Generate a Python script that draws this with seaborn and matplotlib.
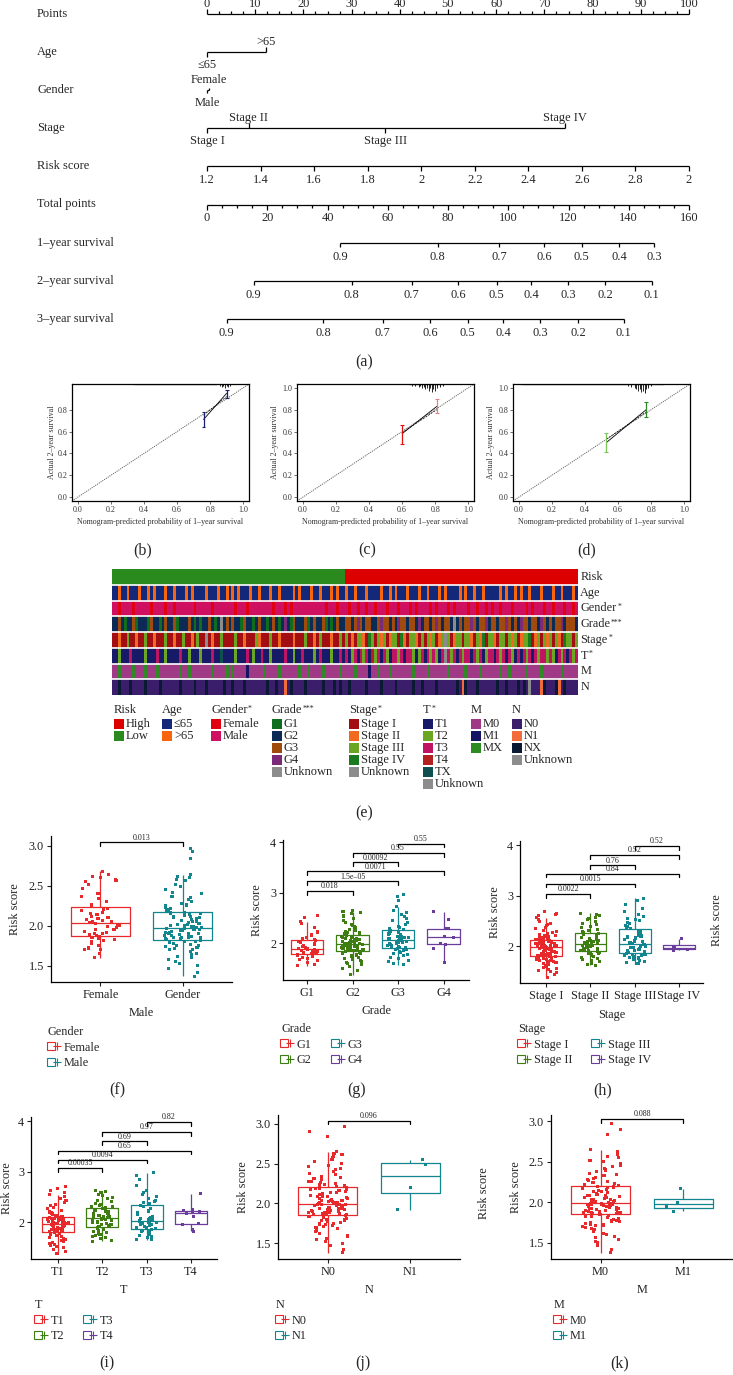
import numpy as np
import pandas as pd
import matplotlib
matplotlib.use('Agg')
import matplotlib.pyplot as plt
import seaborn as sns
from matplotlib.colors import ListedColormap
from matplotlib.lines import Line2D
from matplotlib.patches import Rectangle
from matplotlib.legend_handler import HandlerTuple
from matplotlib.transforms import blended_transform_factory

sns.set_theme(style='white')
plt.rcParams['font.family'] = ['Liberation Serif', 'DejaVu Serif']
np.random.seed(3)

# ---------------- nomogram (a) ----------------
points_ticks = [0, 10, 20, 30, 40, 50, 60, 70, 80, 90, 100]
age_levels = ['\u226465', '>65']
age_points = [0, 12.2]
gender_levels = ['Male', 'Female']
gender_points = [0, 0.4]
stage_levels = ['Stage I', 'Stage II', 'Stage III', 'Stage IV']
stage_points = [0, 8.7, 37.0, 74.3]
risk_ticks = [1.2, 1.4, 1.6, 1.8, 2.0, 2.2, 2.4, 2.6, 2.8, 3.0]
risk_tick_labels = ['1.2', '1.4', '1.6', '1.8', '2', '2.2', '2.4', '2.6', '2.8', '2']
total_ticks = [0, 20, 40, 60, 80, 100, 120, 140, 160]
surv1_probs = ['0.9', '0.8', '0.7', '0.6', '0.5', '0.4', '0.3']
surv1_total = [44.3, 76.6, 97.0, 112.0, 124.4, 136.8, 148.4]
surv2_probs = ['0.9', '0.8', '0.7', '0.6', '0.5', '0.4', '0.3', '0.2', '0.1']
surv2_total = [15.5, 48.0, 67.9, 83.4, 96.1, 107.7, 119.8, 132.1, 147.6]
surv3_probs = ['0.9', '0.8', '0.7', '0.6', '0.5', '0.4', '0.3', '0.2', '0.1']
surv3_total = [6.5, 38.5, 58.3, 74.1, 86.5, 98.4, 110.5, 123.2, 138.3]
row_names = ['Points', 'Age', 'Gender', 'Stage', 'Risk score', 'Total points',
             '1\u2013year survival', '2\u2013year survival', '3\u2013year survival']

# ---------------- calibration (b)-(d) ----------------
cal_b_pred, cal_b_obs, cal_b_corr = [0.76, 0.90], [0.71, 0.95], [0.75, 0.92]
cal_b_low, cal_b_high = [0.64, 0.91], [0.78, 0.98]
cal_c_pred, cal_c_obs, cal_c_corr = [0.60, 0.81], [0.58, 0.83], [0.59, 0.80]
cal_c_low, cal_c_high = [0.49, 0.77], [0.66, 0.90]
cal_d_pred, cal_d_obs, cal_d_corr = [0.53, 0.77], [0.50, 0.80], [0.53, 0.78]
cal_d_low, cal_d_high = [0.41, 0.73], [0.59, 0.87]
rug_b_x = [0.86, 0.87, 0.88, 0.89, 0.90, 0.91, 0.92]
rug_b_h = [0.015, 0.03, 0.02, 0.035, 0.02, 0.03, 0.015]
rug_c_x = [0.66, 0.68, 0.70, 0.71, 0.72, 0.73, 0.74, 0.75, 0.76, 0.77, 0.78, 0.79, 0.80, 0.81, 0.83, 0.85]
rug_c_h = [0.02, 0.02, 0.03, 0.02, 0.04, 0.03, 0.05, 0.04, 0.06, 0.04, 0.07, 0.05, 0.06, 0.04, 0.03, 0.02]
rug_d_x = [0.66, 0.68, 0.70, 0.71, 0.72, 0.73, 0.74, 0.75, 0.76, 0.77, 0.78, 0.80]
rug_d_h = [0.02, 0.03, 0.04, 0.05, 0.06, 0.05, 0.07, 0.06, 0.08, 0.05, 0.04, 0.02]

# ---------------- heatmap (e) ----------------
risk_codes = 'L' * 80 + 'H' * 80
age_codes = ''.join([
    'aaoaaoaaao', 'aaoaoaaaoa', 'aoaaaoaoaa', 'aaoaaaoaao', 'aoaoaaaoaa', 'oaaaoaaoaa', 'aaoaoaaaoa', 'aoaaaoaoaa',
    'oaaoaaaoaa', 'aaoaaoaoaa', 'aoaaaoaaoa', 'aaoaoaaaao', 'aoaaoaaoaa', 'aaaoaoaaoa', 'oaaoaaaoaa', 'aoaaoaaaoa'])
gender_codes = ''.join([
    'mmfmmmmfmm', 'mmmfmmmmfm', 'mfmmmmmmfm', 'mmmmfmmmmm', 'mmfmmmfmmm', 'mmmmmfmmmf', 'mfmmmmmmmm', 'mmmfmmmfmm',
    'mfmmfmmfmm', 'fmmmfmmmfm', 'mmfmfmmmmf', 'mfmmmfmfmm', 'mmfmmfmmfm', 'fmmfmmmfmm', 'mmfmfmmmfm', 'mfmmmfmmfm'])
grade_codes = ''.join([
    '2232122312', '2213221232', '2312223212', '1223212u23', '2322132212', '3221232124', '2132223123', '2231212322',
    '3323432332', '2343323243', '3233242332', '3432332u23', '2334323342', '3323343232', '4332332432', '3233423332'])
stage_codes = ''.join([
    '1121131121', '1311211131', '1211311213', '11u1211311', '1131121113', '2111311211', '1121113112', '1311121131',
    '3121332143', '1323123314', '2133213132', '3123u31233', '1332132413', '3213313231', '2334123132', '3132143313'])
t_codes = ''.join([
    '1121113111', '1211131121', '1113112111', '2111311x11', '1121113121', '1311211113', '1121131112', '1311121131',
    '3123132314', '2313213323', '1332123132', '3213u32313', '2331323123', '3132313213', '1323132332', '3213231323'])
m_codes = ''.join([
    '00x0000x00', '0x000x0000', '000x00x000', '0000x0000x', '0x00001000', '00x0000x00', '0000x00x00', '00x00000x0',
    '000x000010', '0x000x0000', '000x0000x0', '00000x0000', '0x0000x000', '000x00x000', '00x0000x00', '0000x00000'])
n_codes = ''.join([
    '00x000x000', '0x0000x000', '000x0000x0', '00x00000x0', '0x000x0000', '000x00x001', '0x0000x000', '00x000x0x0',
    '0x00000x00', '00x0000x00', '000x00x000', '0x000000x0', '1x000x0000', '00x00x000x', '0x0u0001x0', '00x10x0000'])

risk_key = {'H': ('High', '#DD0000'), 'L': ('Low', '#2B8A1E')}
age_key = {'a': ('\u226465', '#14287A'), 'o': ('>65', '#F8650C')}
gender_key = {'f': ('Female', '#E00010'), 'm': ('Male', '#CF1060')}
grade_key = {'1': ('G1', '#0E6E1E'), '2': ('G2', '#0B2A55'), '3': ('G3', '#A04A0E'),
             '4': ('G4', '#7A2A78'), 'u': ('Unknown', '#8C8C8C')}
stage_key = {'1': ('Stage I', '#A30E12'), '2': ('Stage II', '#F26A1F'), '3': ('Stage III', '#6AA621'),
             '4': ('Stage IV', '#1B7A1F'), 'u': ('Unknown', '#8C8C8C')}
t_key = {'1': ('T1', '#171A66'), '2': ('T2', '#6AA621'), '3': ('T3', '#C01462'), '4': ('T4', '#B22020'),
         'x': ('TX', '#0E5050'), 'u': ('Unknown', '#8C8C8C')}
m_key = {'0': ('M0', '#A03A86'), '1': ('M1', '#141462'), 'x': ('MX', '#2E8A22')}
n_key = {'0': ('N0', '#3B1E6B'), '1': ('N1', '#F26B3A'), 'x': ('NX', '#0B1A34'), 'u': ('Unknown', '#8C8C8C')}

# (label, significance stars, codes, colour key)
heat_rows = [('Risk', '', risk_codes, risk_key), ('Age', '', age_codes, age_key),
             ('Gender', '*', gender_codes, gender_key), ('Grade', '***', grade_codes, grade_key),
             ('Stage', '*', stage_codes, stage_key), ('T', '*', t_codes, t_key),
             ('M', '', m_codes, m_key), ('N', '', n_codes, n_key)]
legend_x = [114, 162, 211, 272, 349, 423, 471, 512]

# ---------------- box plots (f)-(k) ----------------
female_scores = [2.68, 2.64, 2.62, 2.60, 2.58, 2.56, 2.55, 2.52, 2.46, 2.40, 2.36, 2.34, 2.30, 2.26,
                 2.22, 2.21, 2.19, 2.17, 2.15, 2.14, 2.12, 2.10, 2.09, 2.08, 2.07, 2.06, 2.05, 2.04,
                 2.03, 2.02, 2.00, 1.99, 1.98, 1.96, 1.95, 1.93, 1.92, 1.91, 1.90, 1.89, 1.88, 1.87,
                 1.86, 1.85, 1.84, 1.83, 1.82, 1.80, 1.78, 1.76, 1.73, 1.72, 1.71, 1.70, 1.66, 1.60]
male_scores = [2.97, 2.93, 2.84, 2.64, 2.62, 2.60, 2.58, 2.56, 2.52, 2.49, 2.45, 2.42, 2.40, 2.37, 2.35,
               2.33, 2.30, 2.28, 2.26, 2.25, 2.23, 2.22, 2.20, 2.19, 2.18,
               2.17, 2.16, 2.15, 2.14, 2.13, 2.12, 2.11, 2.10, 2.09, 2.08, 2.07, 2.06, 2.05, 2.04, 2.03,
               2.02, 2.02, 2.01, 2.00, 2.00, 1.99, 1.99, 1.98, 1.98, 1.97,
               1.97, 1.96, 1.96, 1.95, 1.94, 1.94, 1.93, 1.92, 1.92, 1.91, 1.90, 1.90, 1.89, 1.88, 1.88,
               1.87, 1.87, 1.86, 1.86, 1.85, 1.85, 1.84, 1.84, 1.83, 1.83,
               1.82, 1.81, 1.80, 1.79, 1.78, 1.77, 1.76, 1.75, 1.74, 1.73, 1.72, 1.71, 1.70, 1.68, 1.66,
               1.64, 1.62, 1.60, 1.58, 1.56, 1.53, 1.50, 1.47, 1.42, 1.37]
g1_scores = [2.55, 2.50, 2.42, 2.39, 2.30, 2.22, 2.16, 2.12, 2.09, 2.07,
             2.05, 2.03, 2.01, 1.99, 1.97, 1.95, 1.93, 1.91, 1.90, 1.89,
             1.88, 1.87, 1.86, 1.85, 1.84, 1.83, 1.82, 1.81, 1.80, 1.79,
             1.77, 1.76, 1.74, 1.72, 1.70, 1.68, 1.65, 1.62, 1.58, 1.55]
g2_scores = [2.65, 2.62, 2.60, 2.58, 2.55, 2.52, 2.48, 2.44, 2.40, 2.37, 2.35, 2.32, 2.30, 2.27, 2.25,
             2.23, 2.21, 2.20, 2.18, 2.17,
             2.15, 2.14, 2.13, 2.12, 2.11, 2.10, 2.09, 2.08, 2.07, 2.06, 2.05, 2.04, 2.03, 2.02, 2.01,
             2.00, 2.00, 1.99, 1.99, 1.98,
             1.97, 1.96, 1.96, 1.95, 1.94, 1.93, 1.93, 1.92, 1.91, 1.90, 1.90, 1.89, 1.88, 1.88, 1.87,
             1.86, 1.86, 1.85, 1.85, 1.84,
             1.83, 1.82, 1.80, 1.79, 1.78, 1.76, 1.75, 1.73, 1.72, 1.70, 1.68, 1.66, 1.64, 1.62, 1.60,
             1.57, 1.54, 1.50, 1.45, 1.37]
g3_scores = [2.97, 2.93, 2.85, 2.72, 2.65, 2.60, 2.56, 2.52, 2.48, 2.44, 2.40, 2.36, 2.33, 2.30, 2.28,
             2.26, 2.24, 2.22, 2.20, 2.18, 2.16, 2.14, 2.13, 2.12, 2.11, 2.10, 2.09, 2.08, 2.07, 2.06,
             2.05, 2.04, 2.03, 2.02, 2.01, 2.00, 1.99, 1.98, 1.97, 1.96, 1.95, 1.94, 1.93, 1.92, 1.91,
             1.89, 1.88, 1.87, 1.86, 1.84, 1.82, 1.80, 1.78, 1.75, 1.72, 1.69, 1.66, 1.63, 1.60, 1.57]
g4_scores = [2.62, 2.47, 2.29, 2.28, 2.14, 2.12, 1.99, 1.97, 1.90, 1.62]
stage1_scores = [2.68, 2.64, 2.62, 2.60, 2.56, 2.52, 2.48, 2.45, 2.42, 2.40, 2.37, 2.34, 2.31, 2.29, 2.27,
                 2.25, 2.23, 2.21, 2.20, 2.18, 2.17, 2.16, 2.15, 2.14, 2.13,
                 2.12, 2.11, 2.11, 2.10, 2.09, 2.09, 2.08, 2.07, 2.07, 2.06, 2.05, 2.05, 2.04, 2.03, 2.03,
                 2.02, 2.02, 2.01, 2.01, 2.00, 2.00, 1.99, 1.99, 1.98, 1.98,
                 1.97, 1.97, 1.96, 1.95, 1.95, 1.94, 1.93, 1.92, 1.92, 1.91, 1.90, 1.89, 1.89, 1.88, 1.87,
                 1.86, 1.86, 1.85, 1.84, 1.84, 1.83, 1.83, 1.82, 1.82, 1.81,
                 1.80, 1.79, 1.78, 1.77, 1.76, 1.75, 1.74, 1.73, 1.72, 1.71, 1.70, 1.69, 1.68, 1.66, 1.64,
                 1.62, 1.60, 1.58, 1.56, 1.54, 1.52, 1.50, 1.47, 1.43, 1.38]
stage2_scores = [2.65, 2.63, 2.60, 2.57, 2.55, 2.52, 2.48, 2.45, 2.42, 2.39, 2.36, 2.33, 2.31, 2.29, 2.27,
                 2.25, 2.23, 2.21, 2.19, 2.17, 2.15, 2.13, 2.12, 2.11, 2.10, 2.09, 2.08, 2.07, 2.06, 2.05,
                 2.04, 2.03, 2.02, 2.01, 2.00, 1.99, 1.98, 1.97, 1.96, 1.95, 1.94, 1.93, 1.92, 1.91, 1.90,
                 1.88, 1.87, 1.86, 1.85, 1.83, 1.81, 1.79, 1.77, 1.75, 1.73, 1.71, 1.69, 1.66, 1.64, 1.62]
stage3_scores = [2.95, 2.90, 2.82, 2.75, 2.68, 2.62, 2.58, 2.55, 2.52, 2.50, 2.47, 2.44, 2.41, 2.38, 2.36,
                 2.34, 2.31, 2.28, 2.25, 2.22, 2.20, 2.18, 2.16, 2.14, 2.12, 2.10, 2.09, 2.08, 2.07, 2.06,
                 2.04, 2.03, 2.02, 2.00, 1.99, 1.98, 1.97, 1.96, 1.94, 1.93, 1.92, 1.91, 1.89, 1.88, 1.87,
                 1.85, 1.84, 1.83, 1.82, 1.81, 1.80, 1.78, 1.77, 1.75, 1.74, 1.72, 1.70, 1.68, 1.66, 1.65]
stage4_scores = [2.15, 1.98, 1.94, 1.92]
t1_scores = [2.70, 2.66, 2.62, 2.58, 2.54, 2.50, 2.46, 2.42, 2.38, 2.35, 2.32, 2.29, 2.26, 2.23, 2.20,
             2.18, 2.16, 2.14, 2.12, 2.11,
             2.10, 2.09, 2.08, 2.07, 2.06, 2.05, 2.05, 2.04, 2.03, 2.02, 2.02, 2.01, 2.00, 2.00, 1.99,
             1.99, 1.98, 1.98, 1.98, 1.97,
             1.97, 1.96, 1.95, 1.94, 1.93, 1.92, 1.91, 1.90, 1.89, 1.88, 1.87, 1.86, 1.85, 1.85, 1.84,
             1.83, 1.83, 1.82, 1.82, 1.81,
             1.80, 1.78, 1.77, 1.75, 1.74, 1.72, 1.70, 1.68, 1.66, 1.64, 1.62, 1.60, 1.58, 1.56, 1.54,
             1.52, 1.50, 1.46, 1.42, 1.38]
t2_scores = [2.62, 2.60, 2.58, 2.55, 2.52, 2.49, 2.46, 2.43, 2.40, 2.37, 2.35, 2.33, 2.31, 2.30,
             2.28, 2.26, 2.24, 2.22, 2.20, 2.18, 2.16, 2.14, 2.13, 2.12, 2.11, 2.10, 2.09, 2.08,
             2.07, 2.06, 2.05, 2.04, 2.03, 2.02, 2.00, 1.99, 1.98, 1.96, 1.95, 1.93, 1.92, 1.91,
             1.89, 1.88, 1.86, 1.84, 1.82, 1.80, 1.78, 1.76, 1.74, 1.72, 1.70, 1.67, 1.64, 1.62]
t3_scores = [2.98, 2.92, 2.85, 2.72, 2.62, 2.58, 2.54, 2.50, 2.46, 2.43, 2.40, 2.38, 2.36,
             2.33, 2.30, 2.26, 2.22, 2.18, 2.15, 2.12, 2.10, 2.08, 2.07, 2.06, 2.05, 2.04,
             2.02, 2.01, 2.00, 1.99, 1.97, 1.96, 1.95, 1.93, 1.92, 1.90, 1.89, 1.88, 1.87,
             1.85, 1.84, 1.82, 1.81, 1.79, 1.77, 1.76, 1.74, 1.72, 1.70, 1.68, 1.66, 1.65]
t4_scores = [2.56, 2.25, 2.23, 2.21, 2.19, 2.18, 2.12, 1.97, 1.95, 1.85, 1.82]
n0_scores = [2.97, 2.90, 2.84, 2.65, 2.63, 2.61, 2.59, 2.57, 2.55, 2.52, 2.50, 2.48, 2.46, 2.44, 2.42,
             2.40, 2.38, 2.36, 2.34, 2.33, 2.31, 2.30, 2.28, 2.27, 2.26, 2.25, 2.24, 2.23, 2.22, 2.21,
             2.20, 2.19, 2.19, 2.18, 2.17, 2.16, 2.15, 2.14, 2.13, 2.12, 2.11, 2.10, 2.09, 2.09, 2.08,
             2.07, 2.06, 2.06, 2.05, 2.04, 2.04, 2.03, 2.03, 2.02, 2.02, 2.01, 2.01, 2.01, 2.00, 2.00,
             1.99, 1.99, 1.98, 1.98, 1.97, 1.97, 1.96, 1.96, 1.95, 1.95, 1.94, 1.94, 1.93, 1.93, 1.92,
             1.92, 1.91, 1.91, 1.90, 1.90, 1.89, 1.89, 1.88, 1.88, 1.87, 1.87, 1.87, 1.86, 1.86, 1.86,
             1.85, 1.84, 1.83, 1.82, 1.81, 1.80, 1.79, 1.78, 1.77, 1.76, 1.75, 1.74, 1.73, 1.72, 1.71,
             1.70, 1.69, 1.68, 1.66, 1.64, 1.62, 1.60, 1.58, 1.56, 1.54, 1.52, 1.50, 1.47, 1.42, 1.38]
n1_scores = [2.55, 2.49, 2.20, 1.92]
m0_scores = n0_scores
m1_scores = [2.17, 2.00, 1.95, 1.89]

two_colors = ['#E8292C', '#12868F']
four_colors = ['#E8292C', '#3E7D12', '#12868F', '#6A3C9C']

# ---------------- layout helpers ----------------
W, H = 733, 1375
fig = plt.figure(figsize=(W / 100, H / 100), dpi=100)
fig.patch.set_facecolor('white')
FS_NOMO = 8.9
FS = 8.8
FS_KEY = 9.0
FS_CAL = 5.8
FS_PANEL = 11.5


def px_axes(left, top, right, bottom):
    return fig.add_axes([left / W, 1 - bottom / H, (right - left) / W, (bottom - top) / H])


def fig_text(x, y, s, **kw):
    return fig.text(x / W, 1 - y / H, s, **kw)


def add_stars(host_ax, text_artist, stars, fs):
    """small raised asterisks glued to the end of a label"""
    if stars:
        host_ax.annotate(stars, xy=(1, 1), xycoords=text_artist, xytext=(0.4, -0.3),
                         textcoords='offset points', fontsize=fs * 0.62, ha='left', va='top',
                         annotation_clip=False)


# ---------------- (a) nomogram ----------------
nomo = px_axes(207, 0, 689, 340)
row_px = 38.1
nomo.set_xlim(0, 100)
nomo.set_ylim((340 - 14) / row_px, -14 / row_px)
nomo.axis('off')
lab_tr = blended_transform_factory(fig.transFigure, nomo.transData)
line_kw = dict(color='black', lw=0.9, solid_capstyle='butt', clip_on=False)
tk = 5 / row_px
up_off, down_off = 10 / row_px, 12.5 / row_px

for i, name in enumerate(row_names):
    nomo.text(37 / W, i, name, transform=lab_tr, ha='left', va='center', fontsize=FS_NOMO)

# Points
nomo.plot([0, 100], [0, 0], **line_kw)
for v in np.arange(0, 100.01, 2.5):
    major = abs(v % 10) < 1e-6
    nomo.plot([v, v], [0, -tk if major else -tk * 0.6], **line_kw)
for v in points_ticks:
    nomo.text(v, -10 / row_px, str(v), ha='center', va='center', fontsize=FS_NOMO, clip_on=False)


def level_axis(row, pts, labels, sides, tick=tk):
    nomo.plot([min(pts), max(pts)], [row, row], **line_kw)
    for p, lab, s in zip(pts, labels, sides):
        d = -1 if s == 'up' else 1
        nomo.plot([p, p], [row, row + d * tick], **line_kw)
        nomo.text(p, row + d * (up_off if s == 'up' else down_off), lab,
                  ha='center', va='center', fontsize=FS_NOMO, clip_on=False)


level_axis(1, age_points, age_levels, ['down', 'up'])
level_axis(2, gender_points, gender_levels, ['down', 'up'], tick=2.5 / row_px)
level_axis(3, stage_points, stage_levels, ['down', 'up', 'down', 'up'])

# Risk score
risk_pos = [(r - risk_ticks[0]) / (risk_ticks[-1] - risk_ticks[0]) * 100 for r in risk_ticks]
nomo.plot([0, 100], [4, 4], **line_kw)
for p, lab in zip(risk_pos, risk_tick_labels):
    nomo.plot([p, p], [4, 4 + tk], **line_kw)
    nomo.text(p, 4 + 13.5 / row_px, lab, ha='center', va='center', fontsize=FS_NOMO)

# Total points
scale_tp = 100 / total_ticks[-1]
nomo.plot([0, 100], [5, 5], **line_kw)
for v in np.arange(0, 160.01, 5):
    major = abs(v % 20) < 1e-6
    nomo.plot([v * scale_tp] * 2, [5, 5 + (tk if major else tk * 0.6)], **line_kw)
for v in total_ticks:
    nomo.text(v * scale_tp, 5 + 13.5 / row_px, str(v), ha='center', va='center', fontsize=FS_NOMO)

# survival axes
for row, probs, totals in [(6, surv1_probs, surv1_total), (7, surv2_probs, surv2_total),
                           (8, surv3_probs, surv3_total)]:
    xs = [t * scale_tp for t in totals]
    nomo.plot([xs[0], xs[-1]], [row, row], **line_kw)
    for x, lab in zip(xs, probs):
        nomo.plot([x, x], [row, row + tk * 0.8], **line_kw)
        nomo.text(x, row + 14 / row_px, lab, ha='center', va='center', fontsize=FS_NOMO)

fig_text(364, 362, '(a)', fontsize=FS_PANEL, ha='center', va='center')


# ---------------- (b)-(d) calibration ----------------
def draw_calibration(box, pred, obs, corr, low, high, bar_colors, band, rug_x, rug_h, yticks, ylab_x):
    ax = px_axes(*box)
    lim = (-0.035, 1.035)
    pred = np.asarray(pred)
    ax.plot(lim, lim, color='#666666', lw=0.7, ls=(0, (1.2, 1.0)))
    ax.plot(pred, obs, color='black', lw=0.6)
    ax.plot(pred, corr, color='black', lw=0.5, ls=(0, (3, 1.5)))
    ax.vlines(pred, low, high, colors=bar_colors, lw=0.9)
    ax.hlines(low, pred - 0.012, pred + 0.012, colors=bar_colors, lw=0.8)
    ax.hlines(high, pred - 0.012, pred + 0.012, colors=bar_colors, lw=0.8)
    ax.hlines(lim[1], band[0], band[1], color='black', lw=1.6)
    ax.vlines(rug_x, lim[1] - np.asarray(rug_h), lim[1], color='black', lw=0.6)
    ax.set_xlim(lim)
    ax.set_ylim(lim)
    ax.set_xticks([0, 0.2, 0.4, 0.6, 0.8, 1.0])
    ax.set_xticklabels(['0.0', '0.2', '0.4', '0.6', '0.8', '1.0'])
    ax.set_yticks(yticks)
    ax.set_yticklabels([f'{t:.1f}' for t in yticks])
    ax.tick_params(labelsize=FS_CAL, length=2, width=0.5, pad=1.5, colors='#333333', direction='out',
                   bottom=True, left=True)
    for s in ax.spines.values():
        s.set_color('black')
        s.set_linewidth(0.9)
    ax.set_xlabel('Nomogram-predicted probability of 1\u2013year survival', fontsize=FS_CAL, color='#333333')
    ax.set_ylabel('Actual 2\u2013year survival', fontsize=FS_CAL, color='#333333')
    ax.xaxis.set_label_coords((box[0] + box[2]) / 2 / W, 1 - 518 / H, transform=fig.transFigure)
    ax.yaxis.set_label_coords((ylab_x + 4) / W, 1 - (box[1] + box[3]) / 2 / H, transform=fig.transFigure)
    return ax


draw_calibration((72, 384, 249, 501), cal_b_pred, cal_b_obs, cal_b_corr, cal_b_low, cal_b_high,
                 ['#1B1F6E', '#1B1F6E'], (0.34, 0.84), rug_b_x, rug_b_h, [0, 0.2, 0.4, 0.6, 0.8], 52)
draw_calibration((297, 384, 474, 501), cal_c_pred, cal_c_obs, cal_c_corr, cal_c_low, cal_c_high,
                 ['#E01010', '#E88080'], (0.64, 0.86), rug_c_x, rug_c_h, [0, 0.2, 0.4, 0.6, 0.8, 1.0], 275)
draw_calibration((513, 384, 690, 501), cal_d_pred, cal_d_obs, cal_d_corr, cal_d_low, cal_d_high,
                 ['#7CC45A', '#2E8A22'], (0.02, 0.88), rug_d_x, rug_d_h, [0, 0.2, 0.4, 0.6, 0.8, 1.0], 491)
for x, lab in [(143, '(b)'), (367, '(c)'), (587, '(d)')]:
    fig_text(x, 550, lab, fontsize=FS_PANEL, ha='center', va='center')

# ---------------- (e) heatmap ----------------
palette = []
for _, _, _, key in heat_rows:
    for _, col in key.values():
        if col not in palette:
            palette.append(col)
matrix = np.array([[palette.index(key[c][1]) for c in codes] for _, _, codes, key in heat_rows])
hax = px_axes(112, 569, 578, 695)
sns.heatmap(matrix, ax=hax, cmap=ListedColormap(palette), vmin=-0.5, vmax=len(palette) - 0.5,
            cbar=False, xticklabels=False, yticklabels=False)
n_cols = matrix.shape[1]
for i in range(1, len(heat_rows)):
    hax.axhline(i, color='white', lw=1.2)
for i, (name, stars, _, _) in enumerate(heat_rows):
    t = hax.text(n_cols + 0.8, i + 0.5, name, ha='left', va='center', fontsize=FS, clip_on=False)
    add_stars(hax, t, stars, FS)

for x, (name, stars, _, key) in zip(legend_x, heat_rows):
    t = fig_text(x, 710, name, fontsize=FS_KEY, ha='left', va='center')
    add_stars(hax, t, stars, FS_KEY)
    for k, (lab, col) in enumerate(key.values()):
        yc = 724 + 12 * k
        fig.add_artist(Rectangle((x / W, 1 - (yc + 5) / H), 10 / W, 10 / H,
                                 transform=fig.transFigure, facecolor=col, edgecolor='none'))
        fig_text(x + 12, yc, lab, fontsize=FS_KEY, ha='left', va='center')
fig_text(364, 813, '(e)', fontsize=FS_PANEL, ha='center', va='center')


# ---------------- (f)-(k) box plots ----------------
def draw_box_panel(box, groups, scores, colors, xlim, ylim, yticks, ytick_labels, tick_labels,
                   xlabel, xlabel_y, ylab_x, brackets, drop, legend_title, legend_xy, ncol):
    ax = px_axes(*box)
    df = pd.DataFrame({'group': np.repeat(groups, [len(s) for s in scores]),
                       'score': np.concatenate(scores)})
    pal = dict(zip(groups, colors))
    sns.boxplot(data=df, x='group', y='score', hue='group', order=groups, hue_order=groups,
                palette=pal, fill=False, width=0.72, showfliers=False, linewidth=0.9,
                capprops={'linewidth': 0}, legend=False, ax=ax)
    sns.stripplot(data=df, x='group', y='score', hue='group', order=groups, hue_order=groups,
                  palette=pal, jitter=0.24, size=2.2, marker='s', linewidth=0, legend=False,
                  ax=ax, zorder=3)
    for i, j, y, lab in brackets:
        ax.plot([i, i, j, j], [y - drop, y, y, y - drop], color='black', lw=0.9, clip_on=False)
        ax.text((i + j) / 2, y + drop * 0.2, lab, ha='center', va='bottom', fontsize=5.8,
                color='#222222', clip_on=False)
    ax.set_xlim(xlim)
    ax.set_ylim(ylim)
    ax.set_yticks(yticks)
    ax.set_yticklabels(ytick_labels)
    ax.set_xticks(range(len(groups)))
    ax.set_xticklabels(tick_labels)
    sns.despine(ax=ax)
    for s in ['left', 'bottom']:
        ax.spines[s].set_color('black')
        ax.spines[s].set_linewidth(0.9)
    ax.tick_params(labelsize=FS, length=3, width=0.8, pad=2, colors='#222222',
                   bottom=True, left=True, direction='out')
    ax.set_xlabel(xlabel, fontsize=FS, color='#222222')
    ax.set_ylabel('Risk score', fontsize=FS, color='#222222')
    ax.xaxis.set_label_coords((box[0] + box[2]) / 2 / W, 1 - (xlabel_y - 6) / H, transform=fig.transFigure)
    ax.yaxis.set_label_coords((ylab_x + 6) / W, 1 - (box[1] + box[3]) / 2 / H, transform=fig.transFigure)
    ax.set_facecolor('none')
    handles = [(Line2D([], [], marker='s', ls='', mfc='none', mec=c, ms=6, mew=0.8),
                Line2D([], [], marker='+', ls='', mec=c, ms=6, mew=0.8)) for c in colors]
    ax.legend(handles, groups, handler_map={tuple: HandlerTuple(ndivide=None)}, title=legend_title,
              loc='upper left', bbox_to_anchor=(legend_xy[0] / W, 1 - legend_xy[1] / H),
              bbox_transform=fig.transFigure, frameon=False, fontsize=FS, title_fontsize=FS,
              ncol=ncol, handlelength=1.0, handletextpad=0.3, labelspacing=0.3,
              columnspacing=1.6, borderaxespad=0, borderpad=0, alignment='left')
    return ax


draw_box_panel((51, 836, 232, 982), ['Female', 'Male'], [female_scores, male_scores], two_colors,
               (-0.6, 1.6), (1.30, 3.12), [1.5, 2.0, 2.5, 3.0], ['1.5', '2.0', '2.5', '3.0'],
               ['Female', 'Gender'], 'Male', 1013, 15, [(0, 1, 3.04, '0.013')], 0.045,
               'Gender', (48, 1026), 1)
draw_box_panel((283, 840, 469, 980), ['G1', 'G2', 'G3', 'G4'],
               [g1_scores, g2_scores, g3_scores, g4_scores], four_colors,
               (-0.53, 3.56), (1.27, 4.04), [2, 3, 4], ['2', '3', '4'], ['G1', 'G2', 'G3', 'G4'],
               'Grade', 1011, 257,
               [(0, 1, 3.03, '0.018'), (0, 2, 3.22, '1.5e\u201305'), (0, 3, 3.42, '0.0071'),
                (1, 2, 3.60, '0.00092'), (1, 3, 3.78, '0.55'), (2, 3, 3.97, '0.55')], 0.07,
               'Grade', (281, 1023), 2)
draw_box_panel((520, 841, 703, 983), ['Stage I', 'Stage II', 'Stage III', 'Stage IV'],
               [stage1_scores, stage2_scores, stage3_scores, stage4_scores], four_colors,
               (-0.59, 3.54), (1.27, 4.08), [2, 3, 4], ['2', '3', '4'],
               ['Stage I', 'Stage II', 'Stage III', 'Stage IV'], 'Stage', 1015, 495,
               [(0, 1, 3.03, '0.0022'), (0, 2, 3.23, '0.0015'), (0, 3, 3.43, '0.84'),
                (1, 2, 3.60, '0.76'), (1, 3, 3.80, '0.52'), (2, 3, 3.98, '0.52')], 0.07,
               'Stage', (518, 1023), 2)
draw_box_panel((31, 1117, 217, 1259), ['T1', 'T2', 'T3', 'T4'],
               [t1_scores, t2_scores, t3_scores, t4_scores], four_colors,
               (-0.61, 3.59), (1.27, 4.08), [2, 3, 4], ['2', '3', '4'], ['T1', 'T2', 'T3', 'T4'],
               'T', 1290, 7,
               [(0, 1, 3.07, '0.00035'), (0, 2, 3.23, '0.0094'), (0, 3, 3.41, '0.65'),
                (1, 2, 3.60, '0.69'), (1, 3, 3.78, '0.97'), (2, 3, 3.98, '0.82')], 0.07,
               'T', (35, 1299), 2)
draw_box_panel((278, 1115, 460, 1259), ['N0', 'N1'], [n0_scores, n1_scores], two_colors,
               (-0.6, 1.6), (1.30, 3.11), [1.5, 2.0, 2.5, 3.0], ['1.5', '2.0', '2.5', '3.0'],
               ['N0', 'N1'], 'N', 1290, 243, [(0, 1, 3.04, '0.096')], 0.045, 'N', (276, 1299), 1)
draw_box_panel((551, 1115, 733, 1259), ['M0', 'M1'], [m0_scores, m1_scores], two_colors,
               (-0.6, 1.6), (1.30, 3.08), [1.5, 2.0, 2.5, 3.0], ['1.5', '2.0', '2.5', '3.0'],
               ['M0', 'M1'], 'M', 1290, 516, [(0, 1, 3.03, '0.088')], 0.045, 'M', (554, 1299), 1)

fig_text(717, 920, 'Risk score', fontsize=FS, rotation=90, ha='center', va='center', color='#222222')
fig_text(484, 1193, 'Risk score', fontsize=FS, rotation=90, ha='center', va='center', color='#222222')
for x, y, lab in [(117, 1090, '(f)'), (357, 1090, '(g)'), (603, 1090, '(h)'),
                  (107, 1363, '(i)'), (363, 1363, '(j)'), (620, 1363, '(k)')]:
    fig_text(x, y, lab, fontsize=FS_PANEL, ha='center', va='center')

fig.savefig('out.png', dpi=100, facecolor='white')
